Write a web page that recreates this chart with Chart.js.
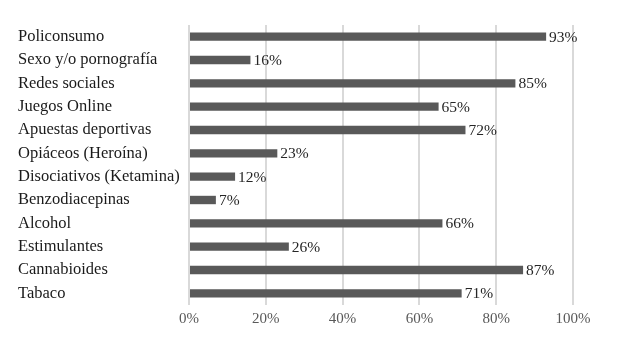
<!DOCTYPE html>
<html>
<head>
<meta charset="utf-8">
<script src="https://cdn.jsdelivr.net/npm/chart.js@4/dist/chart.umd.min.js"></script>
<style>
  html, body { margin: 0; padding: 0; background: #fff; }
  #wrap { width: 626px; height: 350px; }
</style>
</head>
<body>
<div id="wrap"><canvas id="myChart"></canvas></div>
<script>
const categories = [
  'Policonsumo',
  'Sexo y/o pornografía',
  'Redes sociales',
  'Juegos Online',
  'Apuestas deportivas',
  'Opiáceos (Heroína)',
  'Disociativos (Ketamina)',
  'Benzodiacepinas',
  'Alcohol',
  'Estimulantes',
  'Cannabioides',
  'Tabaco',
]
const values = [93, 16, 85, 65, 72, 23, 12, 7, 66, 26, 87, 71]
const xTicks = [0, 20, 40, 60, 80, 100]

const serif = '"Liberation Serif", "DejaVu Serif", serif'

// draws the "93%" style labels at the end of each bar
const endLabels = {
  id: 'endLabels',
  afterDatasetsDraw(chart) {
    const ctx = chart.ctx
    const meta = chart.getDatasetMeta(0)
    ctx.save()
    ctx.font = '15.5px ' + serif
    ctx.fillStyle = '#262626'
    ctx.textAlign = 'left'
    ctx.textBaseline = 'middle'
    meta.data.forEach((bar, i) => {
      ctx.fillText(values[i] + '%', bar.x + 3, bar.y + 1)
    })
    ctx.restore()
  },
}

const data = {
  labels: categories,
  datasets: [
    {
      data: values,
      backgroundColor: '#595959',
      borderWidth: 0,
      barPercentage: 0.36,
      categoryPercentage: 1,
    },
  ],
}

const config = {
  type: 'bar',
  data: data,
  plugins: [endLabels],
  options: {
    indexAxis: 'y',
    responsive: true,
    maintainAspectRatio: false,
    animation: false,
    layout: {
      padding: { left: 18, right: 53, top: 25, bottom: 0 },
    },
    scales: {
      x: {
        min: 0,
        max: 100,
        afterBuildTicks(scale) {
          scale.ticks = xTicks.map(v => ({ value: v }))
        },
        afterFit(scale) {
          scale.height = 45
        },
        grid: { color: '#d9d9d9', lineWidth: 2, drawTicks: false },
        border: { display: false },
        ticks: {
          padding: 5,
          color: '#595959',
          font: { family: serif, size: 15 },
          callback: v => v + '%',
        },
      },
      y: {
        afterFit(scale) {
          scale.width = 171
        },
        grid: { display: false, drawTicks: false },
        border: { display: false },
        ticks: {
          crossAlign: 'far',
          color: '#1a1a1a',
          font: { family: serif, size: 16.5 },
        },
      },
    },
    plugins: {
      legend: { display: false },
      tooltip: { enabled: false },
      title: { display: false },
    },
  },
}

var myChart = new Chart(document.getElementById('myChart'), config)
</script>
</body>
</html>
